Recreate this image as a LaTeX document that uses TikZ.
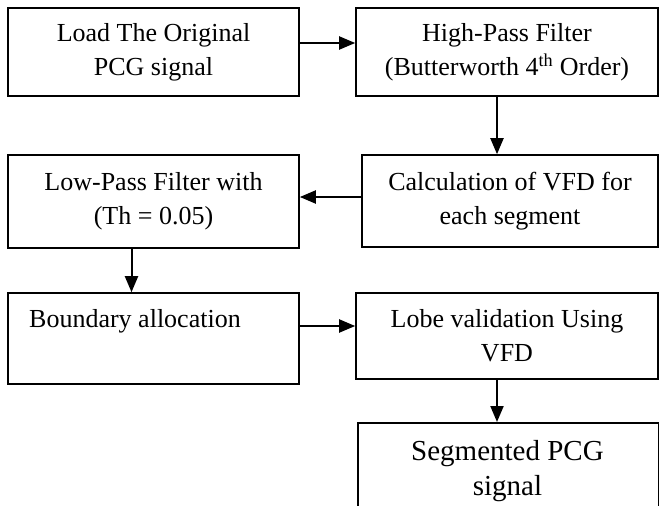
\documentclass[tikz,border=0pt]{standalone}
\usepackage{fontspec}
\setmainfont{Liberation Serif}
\usetikzlibrary{arrows.meta}
\tikzset{
  box/.style={draw, line width=1.6pt, inner sep=0pt, align=center, font=\fontsize{26}{34}\selectfont},
  lbl/.style={inner sep=0pt, font=\fontsize{26}{34}\selectfont},
  biglbl/.style={inner sep=0pt, font=\fontsize{29}{35}\selectfont},
  arr/.style={line width=2pt, -{Triangle[length=16pt,width=13pt]}},
}
\begin{document}
\begin{tikzpicture}[x=1pt,y=-1pt]
\useasboundingbox (0,0) rectangle (659,506);
\fill[white] (0,0) rectangle (659,506);
\begin{scope}
\clip (0,0) rectangle (659,506);
\node[box, minimum width=291pt, minimum height=88pt] (b1) at (153.5,52) {Load The Original\\PCG signal};
\node[box, minimum width=302pt, minimum height=88pt] (b2) at (507,52) {High-Pass Filter\\(Butterworth 4\textsuperscript{th} Order)};
\node[box, minimum width=291pt, minimum height=93pt] (b3) at (153.5,201.5) {Low-Pass Filter with\\(Th = 0.05)};
\node[box, minimum width=296pt, minimum height=92pt] (b4) at (510,201) {Calculation of VFD for\\each segment};
\node[box, minimum width=291pt, minimum height=91pt] (b5) at (153.5,338.5) {};
\node[lbl, anchor=base west] (b5t) at (29,327) {Boundary allocation};
\node[box, minimum width=302pt, minimum height=86pt] (b6) at (507,336) {Lobe validation Using\\VFD};
\node[box, minimum width=301pt, minimum height=130pt, anchor=north west] (b7) at (357,422) {};
\node[biglbl, anchor=base] (b7a) at (507.5,460) {Segmented PCG};
\node[biglbl, anchor=base] (b7b) at (507.5,495) {signal};

\draw[arr] ([yshift=9pt]b1.east) -- ([yshift=9pt]b1.east -| b2.west);
\draw[arr] ([xshift=-10pt]b2.south) -- ([xshift=-10pt]b2.south |- b4.north);
\draw[arr] ([yshift=4pt]b4.west) -- ([yshift=4pt]b4.west -| b3.east);
\draw[arr] ([xshift=-22pt]b3.south) -- ([xshift=-22pt]b3.south |- b5.north);
\draw[arr] ([yshift=12.5pt]b5.east) -- ([yshift=12.5pt]b5.east -| b6.west);
\draw[arr] ([xshift=-10pt]b6.south) -- ([xshift=-10pt]b6.south |- b7.north);
\end{scope}
\end{tikzpicture}
\end{document}
